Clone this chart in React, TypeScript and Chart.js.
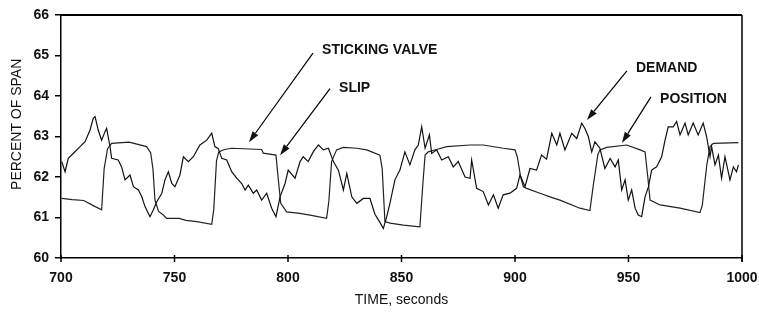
import React, { useEffect, useRef } from "react";
import { Chart, registerables } from "chart.js";

Chart.register(...registerables);

// ---- Data ----
const demandTime = [
  700.3, 701.8, 703.2, 705.4, 708.4, 710.6, 712.8, 714.2, 715.0, 716.4, 717.9, 719.4, 720.1, 721.6, 722.3,
  725.2, 726.7, 728.2, 730.4, 731.9, 734.1, 735.6, 737.0, 739.2, 740.7, 742.2, 744.4, 745.8, 747.3, 748.8,
  750.2, 752.4, 753.9, 756.1, 758.3, 761.2, 764.2, 766.4, 767.8, 769.3, 770.8, 773.0, 775.2, 777.4, 779.6,
  781.1, 782.5, 784.7, 786.2, 788.4, 790.6, 792.8, 794.7, 796.5, 798.7, 800.1, 803.1, 805.3, 806.7, 808.9,
  811.1, 813.4, 815.6, 817.8, 820.0, 822.2, 824.4, 825.9, 828.1, 830.3, 833.2, 836.1, 838.3, 840.5, 842.0,
  843.5, 844.9, 847.1, 849.3, 851.5, 853.7, 855.9, 857.4, 858.9, 860.4, 862.3, 863.3, 865.5, 867.7, 870.6,
  872.8, 875.0, 878.0, 880.2, 880.9, 883.1, 886.0, 888.3, 890.5, 892.6, 894.8, 897.8, 900.7, 902.2, 904.4,
  906.6, 909.5, 911.7, 913.9, 916.2, 918.4, 919.8, 922.0, 925.0, 927.2, 929.4, 930.8, 932.3, 933.8, 935.2,
  937.4, 939.6, 941.9, 944.1, 945.5, 947.0, 948.5, 949.9, 951.4, 952.9, 954.3, 955.8, 957.3, 958.8, 960.2,
  962.4, 964.6, 966.1, 967.5, 969.7, 971.2, 972.7, 974.9, 976.3, 978.5, 980.7, 982.9, 984.4, 985.9, 986.6,
  988.1, 989.6, 991.0, 992.5, 994.7, 996.2, 997.6, 998.4,
];
const demandValue = [
  62.38, 62.13, 62.46, 62.58, 62.75, 62.87, 63.16, 63.45, 63.49, 63.16, 62.91, 63.12, 63.2, 62.75, 62.46,
  62.42, 62.25, 61.93, 62.05, 61.76, 61.68, 61.51, 61.27, 61.02, 61.19, 61.39, 61.6, 61.93, 62.13, 61.84,
  61.76, 62.05, 62.5, 62.38, 62.5, 62.79, 62.91, 63.08, 62.75, 62.7, 62.46, 62.42, 62.13, 61.97, 61.84,
  61.68, 61.8, 61.6, 61.68, 61.43, 61.6, 61.23, 61.02, 61.51, 61.84, 62.17, 61.97, 62.38, 62.5, 62.38,
  62.62, 62.79, 62.67, 62.71, 62.38, 62.17, 61.68, 62.09, 61.51, 61.35, 61.47, 61.47, 61.08, 60.88, 60.73,
  61.02, 61.35, 61.93, 62.17, 62.62, 62.3, 62.67, 62.79, 63.24, 62.71, 63.04, 62.58, 62.67, 62.42, 62.5,
  62.25, 62.38, 62.0, 61.97, 62.42, 61.72, 61.64, 61.31, 61.56, 61.23, 61.56, 61.6, 61.72, 62.05, 61.76,
  62.21, 62.17, 62.54, 62.44, 63.08, 62.79, 63.08, 62.67, 63.08, 62.95, 63.33, 63.2, 63.0, 62.62, 62.87,
  62.71, 62.21, 62.46, 62.25, 62.42, 61.68, 61.93, 61.43, 61.68, 61.23, 61.06, 61.02, 61.51, 61.76, 62.17,
  62.25, 62.5, 62.91, 63.24, 63.24, 63.37, 63.04, 63.33, 63.04, 63.33, 63.04, 63.33, 63.0, 62.5, 62.75,
  62.3, 62.54, 61.97, 62.5, 61.93, 62.25, 62.13, 62.3,
];

const positionTime = [
  700.3, 705, 710, 714, 717.9, 719.0, 720.5, 722.3, 730, 737.7, 739.5, 740.5, 741.4, 743, 745.1, 746.5, 752,
  755, 759.8, 766.4, 767.3, 768.5, 769.5, 772, 775.2, 788.4, 789.1, 794.7, 795.8, 796.8, 799.4, 805.3, 809.7,
  817, 818, 819.2, 821.4, 824.4, 830.3, 834.7, 840.5, 841.5, 842.7, 845, 850.8, 858.1, 859.5, 860.4, 861.8,
  865.5, 869.9, 880.2, 886, 894.8, 900, 901, 902.5, 903.7, 905.1, 911, 915.4, 919.8, 928.6, 933, 934.5,
  936.5, 937.4, 940.4, 949.2, 955.1, 957.3, 958.5, 959.5, 963.9, 972.7, 981.5, 982.5, 984.5, 985.9, 987.4,
  998.4,
];
const positionValue = [
  61.47, 61.44, 61.42, 61.3, 61.19, 62.2, 62.7, 62.83, 62.86, 62.75, 62.6, 62.2, 61.43, 61.15, 61.06, 60.98,
  60.98, 60.93, 60.9, 60.83, 61.2, 62.4, 62.62, 62.68, 62.71, 62.68, 62.59, 62.54, 61.9, 61.35, 61.14, 61.1,
  61.06, 60.98, 61.4, 62.38, 62.67, 62.73, 62.71, 62.67, 62.54, 62.2, 60.9, 60.86, 60.81, 60.77, 61.9, 62.54,
  62.62, 62.68, 62.75, 62.79, 62.79, 62.71, 62.67, 62.5, 62.0, 61.76, 61.72, 61.6, 61.51, 61.43, 61.23, 61.17,
  61.8, 62.55, 62.67, 62.73, 62.79, 62.67, 62.62, 62.0, 61.43, 61.31, 61.23, 61.12, 61.3, 62.3, 62.75, 62.83,
  62.85,
];

const xTicks = [700, 750, 800, 850, 900, 950, 1000];
const yTicks = [60, 61, 62, 63, 64, 65, 66];

// annotations: label, label anchor (time, value), arrow start (time, value), arrow tip (time, value)
const noteLabels = ["STICKING VALVE", "SLIP", "DEMAND", "POSITION"];
const noteTextAt = [[815, 65.12], [822.5, 64.2], [953.3, 64.7], [963.9, 63.93]];
const noteFrom = [[811, 65.06], [818.5, 64.18], [949.3, 64.62], [959.9, 63.98]];
const noteTip = [[782.8, 62.86], [796.5, 62.54], [931.7, 63.41], [947.1, 62.84]];

const FONT = '"Liberation Sans", Arial, Helvetica, sans-serif';

const framePlugin = {
  id: "frame",
  afterDraw(chart: any) {
    const { ctx, chartArea } = chart;
    const xs = chart.scales.x;
    const ys = chart.scales.y;
    ctx.save();
    ctx.strokeStyle = "#000";
    // top and right borders
    ctx.lineWidth = 2;
    ctx.beginPath();
    ctx.moveTo(chartArea.left, chartArea.top);
    ctx.lineTo(chartArea.right, chartArea.top);
    ctx.stroke();
    ctx.lineWidth = 1.5;
    ctx.beginPath();
    ctx.moveTo(chartArea.right, chartArea.top);
    ctx.lineTo(chartArea.right, chartArea.bottom + 4);
    ctx.stroke();
    // x ticks crossing the axis
    ctx.lineWidth = 1.5;
    xTicks.forEach((t) => {
      const px = xs.getPixelForValue(t);
      ctx.beginPath();
      ctx.moveTo(px, chartArea.bottom - 3);
      ctx.lineTo(px, chartArea.bottom + 4);
      ctx.stroke();
    });
    // y title
    ctx.fillStyle = "#111";
    ctx.font = `14px ${FONT}`;
    ctx.textAlign = "center";
    ctx.textBaseline = "middle";
    ctx.save();
    ctx.translate(17, ys.getPixelForValue(63.3));
    ctx.rotate(-Math.PI / 2);
    ctx.fillText("PERCENT OF SPAN", 0, 0);
    ctx.restore();
    // annotations
    ctx.font = `bold 14px ${FONT}`;
    ctx.textAlign = "left";
    ctx.lineWidth = 1.2;
    noteLabels.forEach((label, i) => {
      const tx = xs.getPixelForValue(noteTextAt[i][0]);
      const ty = ys.getPixelForValue(noteTextAt[i][1]);
      ctx.fillText(label, tx, ty);
      const x1 = xs.getPixelForValue(noteFrom[i][0]);
      const y1 = ys.getPixelForValue(noteFrom[i][1]);
      const x2 = xs.getPixelForValue(noteTip[i][0]);
      const y2 = ys.getPixelForValue(noteTip[i][1]);
      const ang = Math.atan2(y2 - y1, x2 - x1);
      const len = 11;
      const hw = 3.5;
      const bx = x2 - Math.cos(ang) * len;
      const by = y2 - Math.sin(ang) * len;
      ctx.beginPath();
      ctx.moveTo(x1, y1);
      ctx.lineTo(bx, by);
      ctx.stroke();
      ctx.beginPath();
      ctx.moveTo(x2, y2);
      ctx.lineTo(bx + Math.sin(ang) * hw, by - Math.cos(ang) * hw);
      ctx.lineTo(bx - Math.sin(ang) * hw, by + Math.cos(ang) * hw);
      ctx.closePath();
      ctx.fill();
    });
    ctx.restore();
  },
};

export default function App() {
  const ref = useRef<HTMLCanvasElement | null>(null);
  useEffect(() => {
    document.body.style.margin = "0";
    if (!ref.current) return;
    const demand = demandTime.map((t, i) => ({ x: t, y: demandValue[i] }));
    const position = positionTime.map((t, i) => ({ x: t, y: positionValue[i] }));
    const chart = new Chart(ref.current, {
      type: "line",
      data: {
        datasets: [
          { label: "DEMAND", data: demand, borderColor: "#111", borderWidth: 1.2, pointRadius: 0, tension: 0 },
          { label: "POSITION", data: position, borderColor: "#222", borderWidth: 1.2, pointRadius: 0, tension: 0 },
        ],
      },
      options: {
        animation: false,
        responsive: false,
        devicePixelRatio: 1,
        layout: { padding: { top: 15, right: 17, left: 0, bottom: 0 } },
        plugins: { legend: { display: false }, tooltip: { enabled: false } },
        scales: {
          x: {
            type: "linear",
            min: 700,
            max: 1000,
            afterFit: (s: any) => { s.height = 56; s.paddingLeft = 0; s.paddingRight = 0; },
            afterBuildTicks: (s: any) => { s.ticks = xTicks.map((v) => ({ value: v })); },
            grid: { display: false, drawTicks: false },
            border: { display: true, color: "#000", width: 1.5 },
            ticks: {
              color: "#111",
              padding: 12,
              maxRotation: 0,
              callback: (v: any) => String(v),
              font: { family: FONT, size: 14, weight: "bold" },
            },
            title: { display: true, text: "TIME, seconds", color: "#111", padding: { top: 0, bottom: 5 }, font: { family: FONT, size: 14 } },
          },
          y: {
            type: "linear",
            min: 60,
            max: 66,
            afterFit: (s: any) => { s.width = 61; s.paddingTop = 0; s.paddingBottom = 0; },
            afterBuildTicks: (s: any) => { s.ticks = yTicks.map((v) => ({ value: v })); },
            grid: { display: true, drawOnChartArea: false, drawTicks: true, tickLength: 6, color: "#000", lineWidth: 1.5 },
            border: { display: true, color: "#000", width: 1.5 },
            ticks: { color: "#111", padding: 6, callback: (v: any) => String(v), font: { family: FONT, size: 14, weight: "bold" } },
          },
        },
      },
      plugins: [framePlugin],
    });
    return () => chart.destroy();
  }, []);
  return (
    <div style={{ position: "fixed", left: 0, top: 0, width: 759, height: 314, background: "#fff" }}>
      <canvas ref={ref} width={759} height={314} />
    </div>
  );
}
